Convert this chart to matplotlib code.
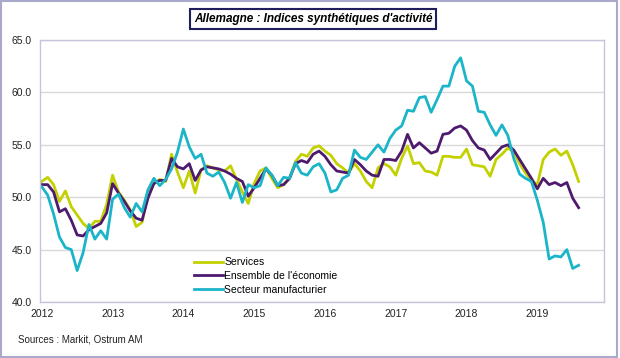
import numpy as np
import matplotlib.pyplot as plt
from matplotlib.patches import Rectangle

plt.rcParams['font.family'] = ['Liberation Sans', 'DejaVu Sans']

# monthly data, Jan 2012 -> Aug 2019
years = ['2012', '2013', '2014', '2015', '2016', '2017', '2018', '2019']

services = [51.5, 51.9, 51.2, 49.6, 50.6, 49.1, 48.3, 47.5, 47.0, 47.7, 47.7, 49.3,
            52.1, 50.5, 49.7, 48.8, 47.2, 47.6, 50.3, 51.3, 51.7, 51.5, 54.1, 52.4,
            50.9, 52.5, 50.4, 52.6, 53.0, 52.8, 52.6, 52.5, 53.0, 51.7, 50.5, 49.4,
            51.3, 52.5, 52.8, 51.8, 50.9, 51.2, 51.8, 53.4, 54.1, 53.9, 54.7, 54.9,
            54.4, 54.0, 53.2, 52.8, 52.3, 53.2, 52.5, 51.5, 50.9, 52.8, 53.2, 52.9,
            52.1, 53.7, 54.9, 53.2, 53.3, 52.5, 52.4, 52.1, 53.9, 53.9, 53.8, 53.8,
            54.6, 53.1, 53.0, 52.9, 52.0, 53.6, 54.1, 54.7, 54.3, 53.2, 52.3, 51.6,
            51.2, 53.6, 54.3, 54.6, 54.0, 54.4, 53.1, 51.5]

ensemble = [51.2, 51.2, 50.5, 48.6, 48.9, 47.8, 46.4, 46.3, 46.9, 47.2, 47.5, 48.5,
            51.3, 50.4, 49.6, 48.7, 48.0, 47.8, 49.9, 51.3, 51.6, 51.6, 53.7, 52.9,
            52.7, 53.2, 51.6, 52.6, 52.9, 52.8, 52.7, 52.5, 52.2, 51.8, 51.5, 50.1,
            50.9, 51.8, 52.7, 52.1, 51.1, 51.2, 51.8, 53.2, 53.5, 53.3, 54.1, 54.4,
            53.9, 53.1, 52.5, 52.4, 52.3, 53.6, 53.1, 52.5, 52.1, 52.0, 53.6, 53.6,
            53.5, 54.4, 56.0, 54.7, 55.2, 54.7, 54.2, 54.4, 56.0, 56.1, 56.6, 56.8,
            56.4, 55.4, 54.7, 54.5, 53.6, 54.2, 54.8, 55.0, 54.5, 53.6, 52.7, 51.8,
            50.8, 51.8, 51.2, 51.4, 51.1, 51.4, 49.9, 49.0]

manuf = [51.0, 50.2, 48.4, 46.2, 45.2, 45.0, 43.0, 44.7, 47.4, 46.0, 46.8, 46.0,
         49.8, 50.3, 49.0, 48.1, 49.4, 48.6, 50.7, 51.8, 51.1, 51.7, 52.7, 54.3,
         56.5, 54.8, 53.7, 54.1, 52.3, 52.0, 52.4, 51.4, 49.9, 51.4, 49.5, 51.2,
         50.9, 51.1, 52.8, 52.1, 51.1, 51.9, 51.8, 53.3, 52.3, 52.1, 52.9, 53.2,
         52.3, 50.5, 50.7, 51.8, 52.1, 54.5, 53.8, 53.6, 54.3, 55.0, 54.3, 55.6,
         56.4, 56.8, 58.3, 58.2, 59.5, 59.6, 58.1, 59.3, 60.6, 60.6, 62.5, 63.3,
         61.1, 60.6, 58.2, 58.1, 56.9, 55.9, 56.9, 55.9, 53.7, 52.2, 51.8, 51.5,
         49.7, 47.6, 44.1, 44.4, 44.3, 45.0, 43.2, 43.5]

months = np.arange(len(services))

fig = plt.figure(figsize=(6.2, 3.58), dpi=100)
ax = fig.add_axes([40/620, 1 - 302/358, 564/620, 262/358])

ax.plot(months, services, color='#C3D100', lw=2.0, label='Services')
ax.plot(months, ensemble, color='#4E1A6E', lw=2.0, label="Ensemble de l'économie")
ax.plot(months, manuf, color='#1BB5C9', lw=2.0, label='Secteur manufacturier')

ax.set_xlim(-0.3, 95.3)
ax.set_ylim(40, 65)
ax.set_yticks(np.arange(40, 66, 5))
ax.set_yticklabels(['%.1f' % v for v in np.arange(40, 66, 5)])
ax.set_xticks(np.arange(0, 96, 12))
ax.set_xticklabels(years)
ax.tick_params(length=0, labelsize=7.5, colors='#222222', pad=5)
ax.tick_params(axis='y', pad=6)
ax.grid(axis='y', color='#D9D9D9', lw=1)
ax.set_axisbelow(True)
for s in ax.spines.values():
    s.set_color('#C4C4DC')
    s.set_linewidth(1)

ax.legend(loc='lower left', bbox_to_anchor=(0.26, 0.0), frameon=False, fontsize=7.5,
          handlelength=2.8, handletextpad=0.1, labelspacing=0.35, borderaxespad=0.3)

fig.text(313/620, 1 - 19/358, "Allemagne : Indices synthétiques d'activité",
         ha='center', va='center', fontsize=8.5, style='italic', weight='bold',
         family=['Liberation Sans Narrow', 'Liberation Sans', 'DejaVu Sans'],
         bbox=dict(boxstyle='square,pad=0.3', fc='white', ec='#1F1F5E', lw=1.5))

fig.text(18/620, 1 - 340/358, 'Sources : Markit, Ostrum AM', ha='left', va='center',
         fontsize=7, color='#222222')

fig.patches.append(Rectangle((0.002, 0.003), 0.993, 0.994, transform=fig.transFigure,
                             fill=False, ec='#A9A9CC', lw=1.5))

fig.savefig('out.png', dpi=100)
